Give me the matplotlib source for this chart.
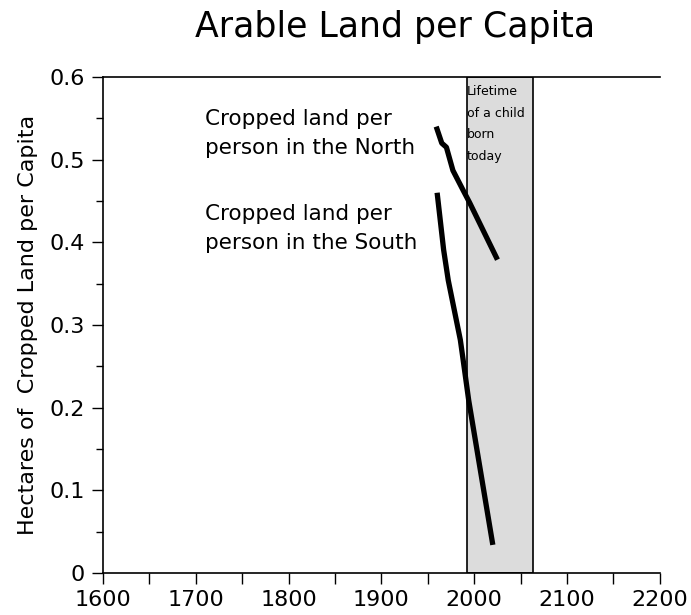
import matplotlib.pyplot as plt
from matplotlib.ticker import MultipleLocator

plt.rcParams['font.family'] = ['DejaVu Sans']

north_years = [1959, 1965, 1970, 1977, 1988, 1995, 2025]
north_vals = [0.540, 0.520, 0.515, 0.487, 0.463, 0.448, 0.379]

south_years = [1960, 1967, 1972, 1985, 1988, 1994, 2020]
south_vals = [0.460, 0.391, 0.354, 0.282, 0.258, 0.209, 0.034]

lifetime_start, lifetime_end = 1992, 2063

fig = plt.figure(figsize=(6.91, 6.15), dpi=100)
ax = fig.add_axes([0.149, 0.0683, 0.806, 0.8065])

ax.axvspan(lifetime_start, lifetime_end, facecolor='#dcdcdc', edgecolor='black', lw=1.2, zorder=1)
ax.text(lifetime_start + 0.3, 0.590, 'Lifetime\nof a child\nborn\ntoday', fontsize=9,
        va='top', ha='left', linespacing=1.85, zorder=2)

ax.plot(north_years, north_vals, color='black', lw=3.8, solid_capstyle='butt', zorder=3)
ax.plot(south_years, south_vals, color='black', lw=3.8, solid_capstyle='butt', zorder=3)

ax.text(1710, 0.532, 'Cropped land per\nperson in the North', fontsize=15.5, va='center', linespacing=1.55)
ax.text(1710, 0.417, 'Cropped land per\nperson in the South', fontsize=15.5, va='center', linespacing=1.55)

ax.set_xlim(1600, 2200)
ax.set_ylim(0, 0.6)
ax.xaxis.set_major_locator(MultipleLocator(100))
ax.xaxis.set_minor_locator(MultipleLocator(50))
ax.yaxis.set_major_locator(MultipleLocator(0.1))
ax.yaxis.set_minor_locator(MultipleLocator(0.05))
ax.set_yticks([0, 0.1, 0.2, 0.3, 0.4, 0.5, 0.6])
ax.set_yticklabels(['0', '0.1', '0.2', '0.3', '0.4', '0.5', '0.6'])
ax.tick_params(axis='both', which='major', labelsize=16, length=8, width=1, direction='out')
ax.tick_params(axis='x', which='major', pad=4)
ax.tick_params(axis='y', which='major', pad=5)
ax.tick_params(axis='x', which='minor', length=8, width=1)
ax.tick_params(axis='y', which='minor', length=5, width=1)

ax.spines['right'].set_visible(False)
for s in ['left', 'bottom', 'top']:
    ax.spines[s].set_linewidth(1.2)

ax.set_ylabel('Hectares of  Cropped Land per Capita', fontsize=16, labelpad=8)
fig.text(0.572, 0.94, 'Arable Land per Capita', fontsize=25, ha='center', va='baseline')

fig.savefig('out.png', dpi=100)
